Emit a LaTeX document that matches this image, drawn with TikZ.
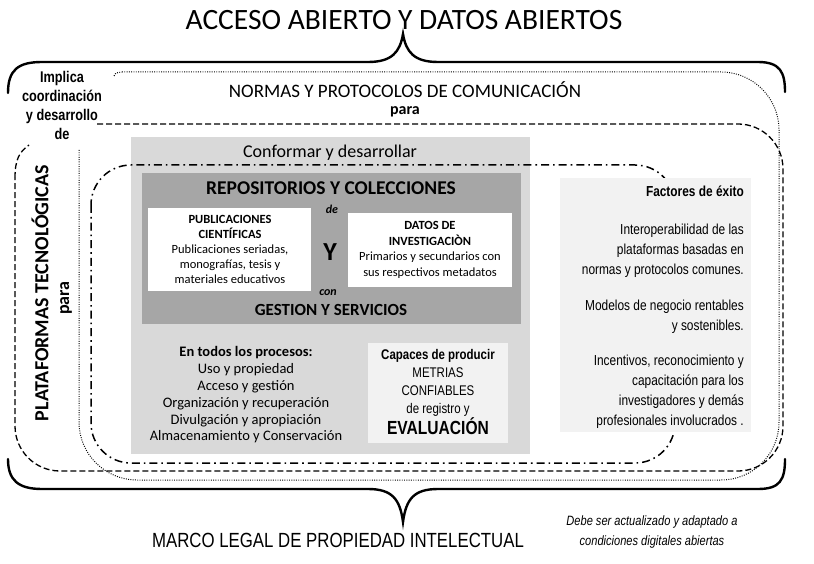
\documentclass[tikz,border=0pt]{standalone}
\usepackage{fontspec}
\setmainfont{Carlito}
\newfontfamily\narrowfont[FakeStretch=0.82]{Liberation Sans}

\definecolor{panelgray}{gray}{0.85}
\definecolor{repogray}{gray}{0.65}
\definecolor{softgray}{gray}{0.95}

\begin{document}
\begin{tikzpicture}[
  x=1pt,y=-1pt,
  panel/.style={fill=#1, inner sep=0pt, anchor=north west},
  dotline/.style={line width=1pt, dash pattern=on 0.9pt off 1.4pt},
  dashline/.style={line width=1.3pt, dash pattern=on 6pt off 3pt},
  dashdotline/.style={line width=1.5pt, dash pattern=on 8pt off 4pt on 1.6pt off 4pt},
  bracepath/.style={line width=2.4pt, line cap=round},
  lbl/.style={align=center, inner sep=0pt}
]
\useasboundingbox (0,0) rectangle (814,564);

% llaves
\draw[bracepath] (8,93) .. controls (8,70) and (18,62) .. (42,62) -- (368,62) .. controls (392,62) and (400,52) .. (403,34) .. controls (406,52) and (414,62) .. (438,62) -- (758,62) .. controls (780,62) and (785,72) .. (785,92);
\draw[bracepath] (8,459) .. controls (8,480) and (18,489) .. (42,489) -- (368,489) .. controls (392,489) and (400,499) .. (403,522) .. controls (406,499) and (414,489) .. (438,489) -- (758,489) .. controls (780,489) and (785,480) .. (785,459);

\node[lbl, font=\fontsize{29.5}{33}\selectfont] (titulo) at (404,20) {ACCESO ABIERTO Y DATOS ABIERTOS};
\node[lbl, font=\narrowfont\bfseries\fontsize{15.5}{19}\selectfont] (implica) at (62,105) {Implica\\coordinación\\y desarrollo\\de};
\node[lbl, font=\fontsize{19}{20}\selectfont] (normas) at (405,90) {NORMAS Y PROTOCOLOS DE COMUNICACIÓN};
\node[lbl, font=\bfseries\fontsize{16}{20}\selectfont] (paranormas) at (405,112) {para};
\node[lbl, rotate=90, font=\bfseries\fontsize{20}{24}\selectfont] (plataformas) at (40,293) {PLATAFORMAS TECNOLÓGICAS};
\node[lbl, rotate=90, font=\bfseries\fontsize{18}{22}\selectfont] (paraplat) at (66,298) {para};

% bloque central
\node[panel=panelgray, minimum width=399pt, minimum height=317pt] (conformar) at (131,137) {};
\node[panel=repogray, minimum width=379pt, minimum height=151pt] (repos) at (142,173) {};
\node[panel=white, minimum width=163pt, minimum height=83pt] (pubbox) at (148,208) {};
\node[panel=white, minimum width=164pt, minimum height=74pt] (datosbox) at (348,213) {};
\node[panel=softgray, minimum width=140pt, minimum height=100pt] (capbox) at (368,343) {};

\node[lbl, font=\fontsize{18}{20}\selectfont] (conftxt) at (330,153) {Conformar y desarrollar};
\node[lbl, font=\bfseries\fontsize{19.5}{22}\selectfont] (repotxt) at (331,188) {REPOSITORIOS Y COLECCIONES};
\node[lbl, font=\bfseries\itshape\fontsize{12}{14}\selectfont] (de) at (332,209) {de};
\node[lbl, font=\fontsize{12.5}{15}\selectfont] (pubtxt) at (230,249) {\textbf{PUBLICACIONES}\\\textbf{CIENTÍFICAS}\\Publicaciones seriadas,\\monografías,  tesis y\\materiales educativos};
\node[lbl, font=\bfseries\fontsize{26}{28}\selectfont] (y) at (330,252) {Y};
\node[lbl, font=\fontsize{12.5}{15.5}\selectfont] (datostxt) at (430,250) {\textbf{DATOS DE}\\\textbf{INVESTIGACIÒN}\\Primarios y secundarios  con\\sus respectivos metadatos};
\node[lbl, font=\bfseries\itshape\fontsize{12}{14}\selectfont] (con) at (328,293) {con};
\node[lbl, font=\bfseries\fontsize{17}{20}\selectfont] (gestion) at (331,310) {GESTION Y SERVICIOS};
\node[lbl, font=\fontsize{14.5}{16.8}\selectfont] (procesos) at (246,395) {\textbf{En todos los procesos:}\\Uso y propiedad\\Acceso y gestión\\Organización y recuperación\\Divulgación y apropiación\\Almacenamiento y Conservación};
\node[lbl, font=\narrowfont\fontsize{14}{18}\selectfont] (captxt) at (438,392) {\textbf{Capaces de producir}\\METRIAS\\CONFIABLES\\de registro y\\\textbf{\fontsize{19}{20}\selectfont EVALUACIÓN}};

% marcos punteados
\draw[dashdotline, rounded corners=40] (91,165) rectangle (675,463);
\node[panel=softgray, minimum width=191pt, minimum height=254pt] (factbox) at (560,178) {};
\node[lbl, align=right, anchor=north east, font=\narrowfont\fontsize{14.5}{20}\selectfont] (facttxt) at (744,186) {\textbf{Factores de éxito}\\[18pt]Interoperabilidad de las\\plataformas basadas en\\normas y protocolos comunes.\\[16pt]Modelos de negocio rentables\\y sostenibles.\\[15pt]Incentivos, reconocimiento y\\capacitación para los\\investigadores y demás\\profesionales involucrados .};

\draw[dashline, rounded corners=45] (97,124) -- (783,124) -- (783,471) -- (15,471) -- (15,178);
\draw[dashline] (15,178) .. controls (15,160) and (19,152) .. (29,145);
\draw[dotline] (114,76) .. controls (115,73) .. (122,72);
\draw[dotline, rounded corners=58] (122,72) -- (779,72) -- (779,480) -- (79,480) -- (79,150);

\node[lbl, font=\narrowfont\fontsize{20.5}{24}\selectfont] (marco) at (338,540) {MARCO LEGAL DE PROPIEDAD INTELECTUAL};
\node[lbl, font=\narrowfont\itshape\fontsize{13.5}{19.5}\selectfont] (debe) at (652,532) {Debe ser actualizado y adaptado a\\condiciones digitales abiertas};
\end{tikzpicture}
\end{document}
